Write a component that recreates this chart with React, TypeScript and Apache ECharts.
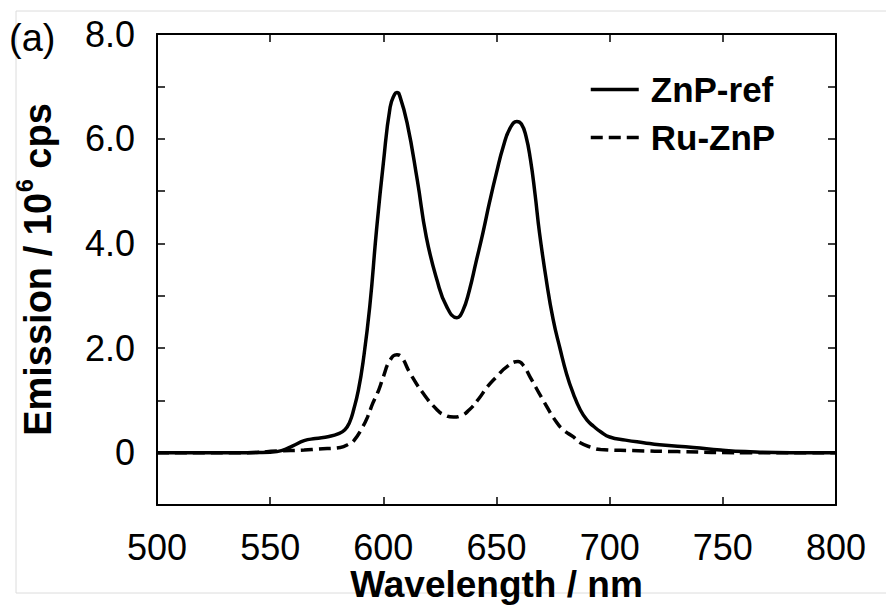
import React, { useEffect, useRef } from "react";
import * as echarts from "echarts";

const seriesNames = ["ZnP-ref", "Ru-ZnP"];

const znpWavelength = [500, 520, 540, 550, 555, 560, 565, 570, 576, 580, 583, 585, 587, 589, 591, 594, 597, 600, 603, 605, 606, 607, 610.5, 615, 619, 623.7, 628, 632.5, 635, 638, 641, 644, 647, 650, 653, 656, 659, 661, 663, 665, 667, 669, 672, 675, 678, 681, 684, 687, 690, 693, 696, 700, 707, 715, 722, 737, 749, 760, 780, 800];
const znpEmission = [0, 0, 0, 0.01, 0.04, 0.13, 0.23, 0.27, 0.31, 0.36, 0.44, 0.57, 0.84, 1.2, 1.72, 2.79, 4.26, 5.53, 6.6, 6.85, 6.88, 6.85, 6.3, 5.21, 4.12, 3.3, 2.79, 2.58, 2.7, 3.1, 3.65, 4.2, 4.8, 5.35, 5.85, 6.2, 6.33, 6.28, 6.05, 5.6, 4.95, 4.2, 3.3, 2.55, 2.0, 1.5, 1.12, 0.82, 0.62, 0.5, 0.4, 0.3, 0.24, 0.19, 0.15, 0.1, 0.05, 0.02, 0, 0];

const ruWavelength = [500, 540, 553, 565, 571, 581, 585, 587, 591, 593, 595.4, 598, 600, 603, 606, 608, 611.8, 617.5, 623.7, 627, 631, 634, 638, 642, 646, 650, 654.5, 659.5, 662, 664.8, 670.5, 676.7, 680, 684, 687, 692, 696, 710, 730, 760, 800];
const ruEmission = [0, 0, 0.03, 0.05, 0.07, 0.1, 0.17, 0.23, 0.5, 0.68, 0.95, 1.2, 1.45, 1.77, 1.87, 1.83, 1.52, 1.14, 0.82, 0.72, 0.68, 0.7, 0.82, 1.02, 1.26, 1.45, 1.64, 1.74, 1.66, 1.45, 1.01, 0.57, 0.42, 0.3, 0.19, 0.1, 0.06, 0.04, 0.02, 0, 0];

const FONT = "Liberation Sans, Arial, sans-serif";

export default function App() {
  const ref = useRef<HTMLDivElement>(null);
  useEffect(() => {
    if (!ref.current) return;
    const chart = echarts.init(ref.current, null, { renderer: "svg" });
    const pair = (xs: number[], ys: number[]) => xs.map((x, i) => [x, ys[i]]);
    const axisLine = { show: true, onZero: false, lineStyle: { color: "#000", width: 2 } };
    const tick = { show: true, inside: true, length: 8, lineStyle: { color: "#000", width: 1.5 } };
    chart.setOption({
      animation: false,
      backgroundColor: "#fff",
      textStyle: { fontFamily: FONT },
      grid: { left: 157, right: 50, top: 34, bottom: 108, containLabel: false },
      legend: {
        show: true,
        orient: "vertical",
        left: 584,
        top: 67,
        itemWidth: 48,
        itemHeight: 14,
        itemGap: 13,
        itemStyle: { opacity: 0 },
        lineStyle: { width: 3.5 },
        textStyle: { fontFamily: FONT, fontWeight: "bold", fontSize: 35, color: "#000", padding: [0, 0, 0, 7] },
        data: seriesNames,
      },
      xAxis: [
        {
          type: "value",
          min: 500,
          max: 800,
          interval: 50,
          position: "bottom",
          axisLine,
          axisTick: tick,
          splitLine: { show: false },
          axisLabel: { fontFamily: FONT, fontSize: 36, lineHeight: 36, color: "#000", margin: 24 },
          name: "Wavelength / nm",
          nameLocation: "middle",
          nameGap: 61,
          nameMoveOverlap: false,
          nameTextStyle: { fontFamily: FONT, fontSize: 37, lineHeight: 37, fontWeight: "bold", color: "#000" },
        },
        {
          type: "value",
          min: 500,
          max: 800,
          interval: 50,
          position: "top",
          axisLine,
          axisTick: tick,
          splitLine: { show: false },
          axisLabel: { show: false },
        },
      ],
      yAxis: [
        {
          type: "value",
          min: -1,
          max: 8,
          interval: 1,
          position: "left",
          axisLine,
          axisTick: tick,
          splitLine: { show: false },
          axisLabel: {
            fontFamily: FONT,
            fontSize: 36,
            color: "#000",
            margin: 22,
            formatter: (v: number) => (v === 0 ? "0" : v > 0 && v % 2 === 0 ? v.toFixed(1) : ""),
          },
          name: "{b|Emission / 10}{sup|6}{b| cps}",
          nameLocation: "middle",
          nameRotate: 90,
          nameGap: 100,
          nameMoveOverlap: false,
          nameTextStyle: {
            rich: {
              b: { fontFamily: FONT, fontSize: 38, fontWeight: "bold", color: "#000", lineHeight: 44, verticalAlign: "bottom" },
              sup: { fontFamily: FONT, fontSize: 23, fontWeight: "bold", color: "#000", lineHeight: 44, verticalAlign: "top", padding: [0, 0, 0, 1] },
            },
          },
        },
        {
          type: "value",
          min: -1,
          max: 8,
          interval: 1,
          position: "right",
          axisLine,
          axisTick: tick,
          splitLine: { show: false },
          axisLabel: { show: false },
        },
      ],
      graphic: [
        {
          type: "rect",
          shape: { x: 16, y: 11, width: 900, height: 582 },
          style: { fill: "none", stroke: "#dcdcdc", lineWidth: 1 },
          silent: true,
          z: -1,
        },
        {
          type: "text",
          left: 9,
          top: 19,
          style: { text: "(a)", fontFamily: FONT, fontSize: 38, fill: "#000" },
        },
      ],
      series: [
        {
          name: seriesNames[0],
          type: "line",
          data: pair(znpWavelength, znpEmission),
          symbol: "none",
          smooth: 0.5,
          lineStyle: { color: "#000", width: 3.5, type: "solid" },
          itemStyle: { color: "#000" },
        },
        {
          name: seriesNames[1],
          type: "line",
          data: pair(ruWavelength, ruEmission),
          symbol: "none",
          smooth: 0.5,
          lineStyle: { color: "#000", width: 3.5, type: [12, 6] },
          itemStyle: { color: "#000" },
        },
      ],
    });
    return () => chart.dispose();
  }, []);
  return <div ref={ref} style={{ width: 886, height: 613, position: "absolute", left: 0, top: 0 }} />;
}
